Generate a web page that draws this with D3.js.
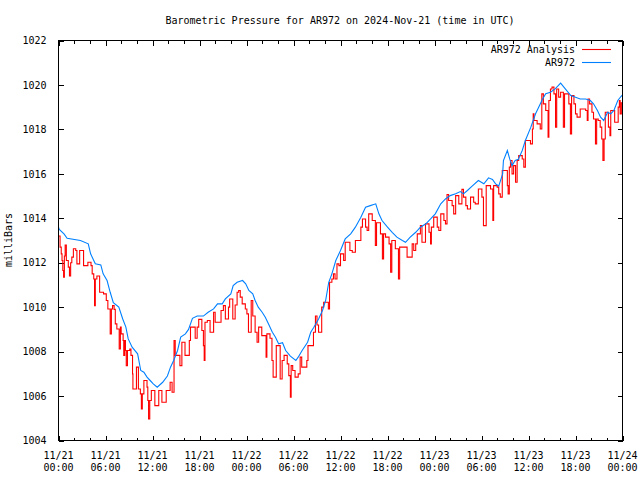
<!DOCTYPE html>
<html>
<head>
<meta charset="utf-8">
<script src="https://cdn.jsdelivr.net/npm/d3@7"></script>
<style>
  html, body { margin: 0; padding: 0; background: #fff; }
  svg text { font-family: "DejaVu Sans Mono", "Liberation Mono", monospace; font-size: 10px; fill: #000; }
</style>
</head>
<body>
<svg id="chart" width="640" height="480"></svg>
<script>
const chartTitle = "Barometric Pressure for AR972 on 2024-Nov-21 (time in UTC)";
const yAxisLabel = "milliBars";
const seriesNames = ["AR972 Analysis", "AR972"];
const yTicks = [1004, 1006, 1008, 1010, 1012, 1014, 1016, 1018, 1020, 1022];
const xTickHours = [0, 6, 12, 18, 24, 30, 36, 42, 48, 54, 60, 66, 72];
const xTickDates = ["11/21","11/21","11/21","11/21","11/22","11/22","11/22","11/22","11/23","11/23","11/23","11/23","11/24"];
const xTickTimes = ["00:00","06:00","12:00","18:00","00:00","06:00","12:00","18:00","00:00","06:00","12:00","18:00","00:00"];

// [hours since 11/21 00:00 UTC, mb]
const analysisSeries = [
[0,1013.2],[0.2,1012.7],[0.35,1012.4],[0.45,1012.1],[0.55,1011.65],[0.65,1011.35],[0.75,1012.3],[0.85,1012.8],[1.0,1012.1],[1.25,1011.8],[1.4,1011.4],[1.55,1012.0],[1.7,1012.25],[1.9,1012.63],[2.2,1012.55],[2.35,1011.95],[2.7,1012.55],[3.2,1011.87],[3.75,1012.02],[4.15,1011.87],[4.3,1011.5],[4.5,1011.27],[4.6,1010.07],[4.7,1011.27],[4.9,1011.4],[5.25,1010.67],[5.75,1010.6],[6.1,1010.3],[6.3,1009.92],[6.6,1008.8],[6.75,1009.92],[6.9,1010.07],[7.1,1009.9],[7.25,1009.25],[7.45,1009.02],[7.75,1008.12],[7.9,1009.1],[8.0,1008.8],[8.25,1008.5],[8.33,1007.83],[8.45,1008.5],[8.55,1008.05],[8.65,1007.37],[8.8,1008.05],[9.1,1008.12],[9.25,1007.83],[9.45,1007.0],[9.5,1006.32],[9.95,1007.3],[10.2,1006.32],[10.45,1006.1],[10.58,1005.42],[10.7,1006.1],[10.9,1006.7],[11.3,1006.4],[11.4,1005.8],[11.5,1004.97],[11.65,1005.8],[11.85,1006.25],[12.3,1005.57],[12.8,1006.25],[13.2,1005.72],[13.75,1006.25],[14.25,1006.62],[14.5,1006.17],[14.75,1008.5],[14.9,1007.83],[15.5,1007.37],[15.75,1008.42],[16.15,1007.83],[16.7,1008.5],[16.85,1009.1],[17.45,1008.6],[17.7,1009.1],[17.9,1009.45],[18.3,1008.95],[18.5,1008.27],[18.6,1007.6],[18.7,1009.32],[19.0,1009.4],[19.35,1008.87],[19.8,1009.77],[20.0,1009.32],[20.75,1009.85],[21.05,1010.07],[21.3,1009.47],[21.7,1010.0],[21.85,1010.37],[22.25,1009.47],[22.55,1010.1],[22.8,1010.67],[23.0,1010.75],[23.2,1010.45],[23.45,1010.15],[23.85,1009.92],[24.05,1009.7],[24.25,1008.87],[24.6,1010.3],[24.8,1009.6],[25.1,1008.87],[25.35,1008.42],[25.55,1009.1],[25.95,1008.72],[26.5,1007.75],[26.6,1008.8],[27.0,1008.6],[27.25,1007.6],[27.4,1006.85],[27.8,1008.27],[28.3,1006.77],[28.55,1007.6],[28.8,1007.83],[29.2,1007.45],[29.4,1006.92],[29.6,1005.95],[29.7,1007.37],[29.9,1007.15],[30.2,1006.85],[30.6,1007.0],[30.85,1007.75],[31.05,1007.3],[31.7,1007.6],[31.85,1008.27],[32.55,1008.87],[32.8,1009.6],[33.0,1009.2],[33.2,1008.87],[33.6,1010.0],[33.85,1010.22],[34.45,1009.92],[34.6,1011.12],[34.9,1011.27],[35.1,1011.5],[35.3,1011.27],[35.55,1011.95],[35.8,1011.87],[36.0,1012.4],[36.4,1012.1],[36.6,1012.92],[37.2,1012.55],[37.5,1012.47],[37.9,1013.0],[38.6,1013.6],[38.8,1013.97],[39.2,1013.6],[39.4,1013.45],[39.6,1014.2],[40.05,1013.9],[40.45,1012.78],[40.6,1013.8],[41.1,1013.3],[41.35,1012.17],[41.5,1013.3],[41.75,1013.15],[42.2,1012.85],[42.4,1011.57],[42.55,1013.0],[43.0,1012.63],[43.4,1011.27],[43.55,1012.7],[44.5,1012.25],[45.15,1012.85],[45.35,1012.55],[45.6,1012.85],[45.8,1013.3],[46.2,1013.67],[46.4,1012.92],[46.85,1013.75],[47.3,1013.37],[47.5,1012.85],[47.6,1013.6],[47.9,1014.05],[48.35,1013.6],[48.55,1013.45],[48.8,1014.2],[49.2,1013.9],[49.4,1013.75],[49.6,1015.07],[49.8,1014.8],[50.25,1014.57],[50.45,1014.2],[50.7,1015.02],[51.1,1014.65],[51.5,1015.3],[51.7,1014.95],[52.0,1014.57],[52.2,1014.42],[52.6,1014.95],[53.0,1014.72],[53.2,1014.65],[53.6,1015.32],[54.05,1014.95],[54.25,1013.67],[54.6,1015.47],[55.15,1015.32],[55.45,1013.9],[55.55,1015.47],[56.0,1015.4],[56.2,1015.1],[56.4,1014.95],[56.65,1016.15],[57.3,1015.47],[57.4,1015.1],[57.55,1016.3],[57.7,1016.6],[57.9,1016.0],[58.1,1016.37],[58.35,1015.62],[58.55,1016.6],[58.75,1016.82],[59.2,1016.67],[59.4,1016.3],[59.6,1017.5],[60.25,1017.35],[60.5,1018.02],[60.6,1018.7],[60.7,1018.4],[61.1,1018.25],[61.5,1018.02],[61.7,1019.6],[61.9,1019.15],[62.2,1018.85],[62.5,1017.65],[62.6,1019.3],[62.8,1019.82],[63.0,1019.9],[63.25,1019.6],[63.45,1018.1],[63.6,1019.82],[63.85,1019.45],[64.1,1019.67],[64.45,1018.1],[64.6,1019.6],[65.15,1019.15],[65.35,1017.8],[65.5,1019.52],[65.8,1019.15],[66.0,1018.7],[66.2,1018.55],[66.6,1018.92],[67.3,1018.85],[67.5,1018.4],[67.6,1019.37],[67.8,1019.15],[68.1,1018.77],[68.3,1018.47],[68.55,1017.35],[68.7,1018.47],[68.9,1018.4],[69.15,1018.1],[69.35,1017.57],[69.5,1016.6],[69.65,1017.57],[69.8,1018.77],[70.2,1018.1],[70.4,1017.72],[70.5,1018.85],[71.0,1018.32],[71.45,1019.0],[71.6,1019.3],[71.7,1018.7],[71.85,1019.2],[72,1019.2]
];

const stationSeries = [
[0,1013.6],[0.1,1013.5],[0.7,1013.3],[1.1,1013.1],[2.8,1013.0],[3.8,1012.85],[4.1,1012.4],[4.7,1011.95],[5.4,1011.9],[5.7,1011.5],[6.2,1011.2],[6.6,1010.67],[7.0,1010.2],[7.7,1010.0],[8.2,1009.47],[8.6,1009.1],[8.9,1008.57],[9.4,1008.2],[10.1,1007.9],[10.5,1007.15],[10.9,1007.07],[11.3,1006.85],[11.7,1006.7],[12.1,1006.55],[12.6,1006.4],[13.3,1006.62],[13.9,1006.9],[14.3,1007.3],[14.7,1007.6],[15.2,1008.05],[15.6,1008.65],[16.2,1008.8],[16.6,1009.0],[17.1,1009.5],[17.7,1009.6],[18.5,1009.6],[19.1,1009.77],[19.8,1009.92],[20.3,1010.15],[20.9,1010.15],[21.3,1010.37],[22.0,1010.6],[22.3,1010.97],[22.8,1011.12],[23.5,1011.2],[23.9,1011.05],[24.3,1010.75],[24.8,1010.6],[25.1,1010.3],[25.5,1010.0],[26.0,1009.77],[26.4,1009.55],[26.8,1009.25],[27.3,1008.87],[27.7,1008.65],[28.1,1008.35],[28.6,1008.4],[29.0,1008.05],[29.6,1007.8],[30.3,1007.6],[30.6,1007.75],[31.1,1008.05],[31.8,1008.42],[32.2,1008.87],[32.6,1009.1],[33.2,1009.47],[33.7,1009.85],[34.1,1010.3],[34.5,1011.12],[34.9,1011.5],[35.4,1012.1],[36.0,1012.55],[36.6,1013.07],[37.3,1013.3],[37.9,1013.6],[38.6,1014.05],[39.2,1014.5],[39.8,1014.57],[40.5,1014.65],[40.9,1014.2],[41.3,1013.9],[42.0,1013.6],[42.6,1013.37],[43.2,1013.15],[43.9,1013.0],[44.3,1012.92],[44.9,1013.15],[45.6,1013.37],[46.2,1013.6],[46.9,1013.75],[47.5,1013.97],[48.1,1014.2],[48.8,1014.65],[49.4,1014.87],[50.0,1015.02],[50.7,1015.1],[51.3,1015.2],[51.7,1015.1],[52.2,1015.25],[52.8,1015.45],[53.6,1015.7],[54.3,1015.55],[54.9,1015.82],[55.4,1015.75],[55.8,1015.55],[56.2,1015.45],[56.7,1016.0],[56.8,1016.6],[57.3,1017.05],[57.6,1016.67],[57.9,1016.37],[58.3,1016.6],[58.7,1016.65],[59.2,1017.05],[59.6,1017.5],[60.3,1018.1],[60.9,1018.7],[61.3,1019.0],[61.8,1019.37],[62.2,1019.6],[62.8,1019.67],[63.4,1019.82],[64.1,1020.08],[64.7,1019.82],[65.4,1019.52],[66.0,1019.45],[66.6,1019.37],[67.3,1019.37],[67.9,1019.3],[68.3,1019.15],[68.8,1018.85],[69.2,1018.55],[69.6,1018.4],[70.1,1018.77],[70.5,1018.7],[70.9,1018.85],[71.4,1019.3],[71.8,1019.48],[72,1019.55]
];

const colors = ["#ff0000", "#0080ff"];

const svg = d3.select("#chart");
const m = {left: 58.5, right: 622.5, top: 40.5, bottom: 440.5};

const x = d3.scaleLinear().domain([0, 72]).range([m.left, m.right]);
const y = d3.scaleLinear().domain([1004, 1022]).range([m.bottom, m.top]);

svg.append("rect").attr("width", 640).attr("height", 480).attr("fill", "#fff");

// Title
svg.append("text").attr("x", 340).attr("y", 24).attr("text-anchor", "middle").text(chartTitle);

// Y label
svg.append("text").attr("transform", "translate(12,240) rotate(-90)")
  .attr("text-anchor", "middle").text(yAxisLabel);

const minorHours = d3.range(0, 73, 2).filter(h => h % 6 !== 0);

const gBottom = svg.append("g").attr("transform", `translate(0,${m.bottom})`)
  .call(d3.axisBottom(x).tickValues(xTickHours).tickSize(-5).tickFormat(() => ""));
const gBottomMinor = svg.append("g").attr("transform", `translate(0,${m.bottom})`)
  .call(d3.axisBottom(x).tickValues(minorHours).tickSize(-3).tickFormat(() => ""));
const gTop = svg.append("g").attr("transform", `translate(0,${m.top})`)
  .call(d3.axisTop(x).tickValues(xTickHours).tickSize(-5).tickFormat(() => ""));
const gTopMinor = svg.append("g").attr("transform", `translate(0,${m.top})`)
  .call(d3.axisTop(x).tickValues(minorHours).tickSize(-3).tickFormat(() => ""));
const gLeft = svg.append("g").attr("transform", `translate(${m.left},0)`)
  .call(d3.axisLeft(y).tickValues(yTicks).tickSize(-5).tickPadding(12).tickFormat(d3.format("d")));
const gRight = svg.append("g").attr("transform", `translate(${m.right},0)`)
  .call(d3.axisRight(y).tickValues(yTicks).tickSize(-5).tickFormat(() => ""));

[gBottom, gBottomMinor, gTop, gTopMinor, gLeft, gRight].forEach(g => {
  g.selectAll(".domain").remove();
  g.selectAll("line").attr("stroke", "#000").attr("shape-rendering", "crispEdges");
  g.selectAll("text").attr("font-family", null).attr("font-size", null).attr("fill", "#000");
});

// X tick labels (two lines)
const xl = svg.append("g");
xTickHours.forEach((h, i) => {
  xl.append("text").attr("x", x(h)).attr("y", 459).attr("text-anchor", "middle").text(xTickDates[i]);
  xl.append("text").attr("x", x(h)).attr("y", 471).attr("text-anchor", "middle").text(xTickTimes[i]);
});

// Data lines
svg.append("clipPath").attr("id", "clip").append("rect")
  .attr("x", m.left).attr("y", m.top)
  .attr("width", m.right - m.left).attr("height", m.bottom - m.top);

const plot = svg.append("g").attr("clip-path", "url(#clip)");
const redLine = d3.line().x(d => x(d[0])).y(d => y(d[1])).curve(d3.curveStepAfter);
const blueLine = d3.line().x(d => x(d[0])).y(d => y(d[1]));

plot.append("path").datum(analysisSeries).attr("d", redLine)
  .attr("fill", "none").attr("stroke", colors[0]).attr("stroke-width", 1.1);
plot.append("path").datum(stationSeries).attr("d", blueLine)
  .attr("fill", "none").attr("stroke", colors[1]).attr("stroke-width", 1.1);

// Frame
svg.append("rect").attr("x", m.left).attr("y", m.top)
  .attr("width", m.right - m.left).attr("height", m.bottom - m.top)
  .attr("fill", "none").attr("stroke", "#000").attr("shape-rendering", "crispEdges");

// Legend
const legend = svg.append("g");
seriesNames.forEach((name, i) => {
  const ly = 49 + i * 13;
  legend.append("text").attr("x", 575).attr("y", ly).attr("dy", "0.35em")
    .attr("text-anchor", "end").text(name);
  legend.append("line").attr("x1", 582).attr("x2", 611).attr("y1", ly + 0.5).attr("y2", ly + 0.5)
    .attr("stroke", colors[i]).attr("stroke-width", 1.1);
});
</script>
</body>
</html>
